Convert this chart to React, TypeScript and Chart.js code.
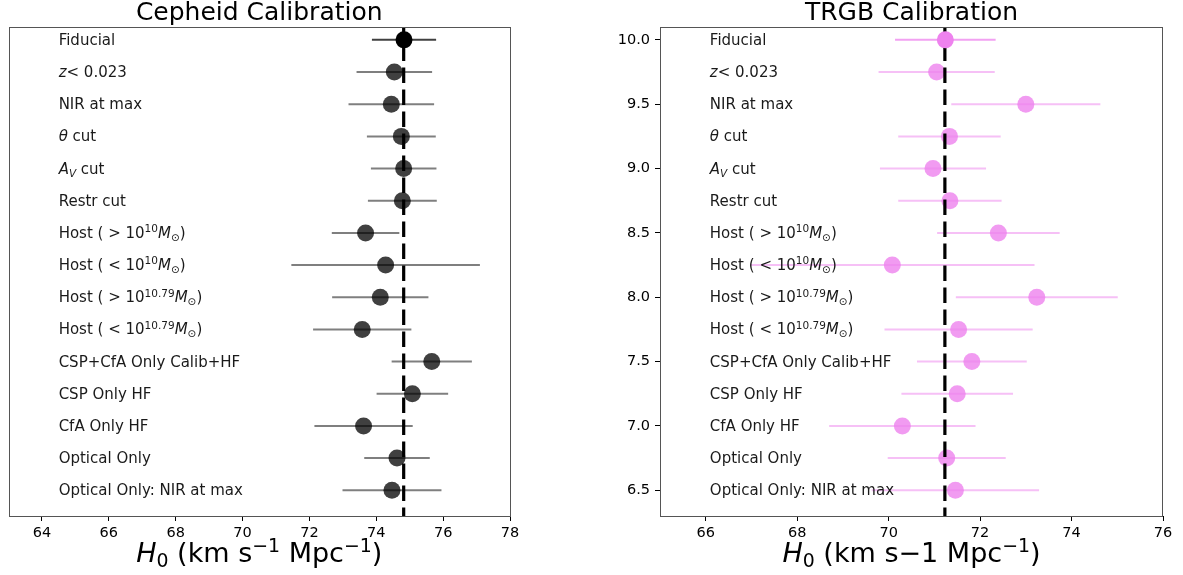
import React, { useEffect, useRef } from "react";
import { Chart, registerables } from "chart.js";
Chart.register(...registerables);

// ---------- data ----------
const rowLabels = [
  "Fiducial",
  "*z*< 0.023",
  "NIR at max",
  "*θ* cut",
  "*A*_{*V*} cut",
  "Restr cut",
  "Host ( > 10^{10}*M*_{⊙})",
  "Host ( < 10^{10}*M*_{⊙})",
  "Host ( > 10^{10.79}*M*_{⊙})",
  "Host ( < 10^{10.79}*M*_{⊙})",
  "CSP+CfA Only Calib+HF",
  "CSP Only HF",
  "CfA Only HF",
  "Optical Only",
  "Optical Only: NIR at max",
];
const rowY = [10.0, 9.75, 9.5, 9.25, 9.0, 8.75, 8.5, 8.25, 8.0, 7.75, 7.5, 7.25, 7.0, 6.75, 6.5];

const cepheidH0 = [74.83, 74.54, 74.45, 74.75, 74.82, 74.78, 73.68, 74.28, 74.12, 73.58, 75.66, 75.08, 73.62, 74.62, 74.47];
const cepheidErr = [0.96, 1.13, 1.28, 1.03, 0.98, 1.03, 1.01, 2.82, 1.44, 1.47, 1.2, 1.07, 1.47, 0.98, 1.48];
const cepheidRef = 74.82;

const trgbH0 = [71.24, 71.05, 73.0, 71.33, 70.97, 71.34, 72.4, 70.08, 73.24, 71.53, 71.82, 71.5, 70.3, 71.27, 71.46];
const trgbErr = [1.1, 1.27, 1.63, 1.12, 1.16, 1.13, 1.34, 3.11, 1.77, 1.62, 1.2, 1.22, 1.6, 1.29, 1.83];
const trgbRef = 71.23;

const cepheidXTicks = [64, 66, 68, 70, 72, 74, 76, 78];
const trgbXTicks = [66, 68, 70, 72, 74, 76];
const trgbYTicks = [6.5, 7.0, 7.5, 8.0, 8.5, 9.0, 9.5, 10.0];

const FONT = '"DejaVu Sans"';

// ---------- rich text (italic, super/subscript) ----------
type Seg = { t: string; it: boolean; m: number };
function parseRich(s: string): Seg[] {
  const out: Seg[] = [];
  let it = false;
  let mode = 0;
  let buf = "";
  const push = () => {
    if (buf) {
      out.push({ t: buf, it, m: mode });
      buf = "";
    }
  };
  for (let i = 0; i < s.length; i++) {
    const c = s[i];
    if (c === "*") { push(); it = !it; continue; }
    if ((c === "^" || c === "_") && s[i + 1] === "{") { push(); mode = c === "^" ? 1 : -1; i++; continue; }
    if (c === "}" && mode !== 0) { push(); mode = 0; continue; }
    buf += c;
  }
  push();
  return out;
}
function segFont(seg: Seg, size: number) {
  const s = seg.m ? size * 0.7 : size;
  return `${seg.it ? "italic " : ""}${s}px ${FONT}`;
}
function drawRich(ctx: CanvasRenderingContext2D, s: string, x: number, y: number, size: number, align: "left" | "center", color: string) {
  const segs = parseRich(s);
  let w = 0;
  const widths = segs.map((g) => {
    ctx.font = segFont(g, size);
    const mw = ctx.measureText(g.t).width;
    w += mw;
    return mw;
  });
  let cx = align === "center" ? x - w / 2 : x;
  ctx.save();
  ctx.fillStyle = color;
  ctx.textAlign = "left";
  ctx.textBaseline = "alphabetic";
  segs.forEach((g, i) => {
    ctx.font = segFont(g, size);
    const dy = g.m === 1 ? -0.38 * size : g.m === -1 ? 0.2 * size : 0;
    ctx.fillText(g.t, cx, y + dy);
    cx += widths[i];
  });
  ctx.restore();
}

// ---------- panel ----------
type PanelCfg = {
  title: string;
  xTitle: string;
  values: number[];
  errs: number[];
  ref: number;
  xMin: number;
  xMax: number;
  xTicks: number[];
  yTicks: number[] | null;
  labelX: number;
  width: number;
  padLeft: number;
  padRight: number;
  yAxisWidth: number;
  fidColor: string;
  ptColor: string;
  fidBarColor: string;
  barColor: string;
};

function buildChart(canvas: HTMLCanvasElement, c: PanelCfg) {
  const others = rowY.slice(1).map((y, i) => ({ x: c.values[i + 1], y }));
  const fid = [{ x: c.values[0], y: rowY[0] }];

  const panelPlugin = {
    id: "panelExtras",
    beforeDatasetsDraw(chart: any) {
      const { ctx } = chart;
      const xs = chart.scales.x;
      const ys = chart.scales.y;
      ctx.save();
      ctx.lineWidth = 2;
      for (let i = 0; i < rowY.length; i++) {
        const y = ys.getPixelForValue(rowY[i]);
        ctx.strokeStyle = i === 0 ? c.fidBarColor : c.barColor;
        ctx.beginPath();
        ctx.moveTo(xs.getPixelForValue(c.values[i] - c.errs[i]), y);
        ctx.lineTo(xs.getPixelForValue(c.values[i] + c.errs[i]), y);
        ctx.stroke();
      }
      ctx.restore();
    },
    afterDatasetDraw(chart: any, args: any) {
      if (args.index !== 0) return;
      const { ctx, chartArea } = chart;
      const x = chart.scales.x.getPixelForValue(c.ref);
      ctx.save();
      ctx.strokeStyle = "#000";
      ctx.lineWidth = 3.2;
      ctx.setLineDash([15.4, 6.6]);
      ctx.lineDashOffset = 3.4;
      ctx.beginPath();
      ctx.moveTo(x, chartArea.top);
      ctx.lineTo(x, chartArea.bottom);
      ctx.stroke();
      ctx.restore();
    },
    afterDraw(chart: any) {
      const { ctx, chartArea } = chart;
      const xs = chart.scales.x;
      const ys = chart.scales.y;
      // row labels
      const lx = xs.getPixelForValue(c.labelX);
      rowLabels.forEach((lab, i) => {
        drawRich(ctx, lab, lx, ys.getPixelForValue(rowY[i]) + 5, 15, "left", "#1a1a1a");
      });
      // frame
      ctx.save();
      ctx.strokeStyle = "#555";
      ctx.lineWidth = 1;
      ctx.strokeRect(
        Math.round(chartArea.left) + 0.5,
        Math.round(chartArea.top) + 0.5,
        Math.round(chartArea.right - chartArea.left) - 1,
        Math.round(chartArea.bottom - chartArea.top)
      );
      ctx.restore();
      // x title
      drawRich(ctx, c.xTitle, (chartArea.left + chartArea.right) / 2, 562, 27, "center", "#000");
    },
  };

  const tickFont = { family: FONT, size: 14.5 };

  return new Chart(canvas, {
    type: "scatter",
    data: {
      datasets: [
        { data: others, pointRadius: 8.5, pointHoverRadius: 8.5, pointBackgroundColor: c.ptColor, pointBorderWidth: 0, borderWidth: 0, order: 2 } as any,
        { data: fid, pointRadius: 8.5, pointHoverRadius: 8.5, pointBackgroundColor: c.fidColor, pointBorderWidth: 0, borderWidth: 0, order: 1 } as any,
      ],
    },
    options: {
      responsive: false,
      animation: false,
      events: [],
      layout: { padding: { left: c.padLeft, right: c.padRight, top: 0, bottom: 0 } },
      plugins: {
        legend: { display: false },
        tooltip: { enabled: false },
        title: {
          display: true,
          text: c.title,
          color: "#000",
          font: { family: FONT, size: 25, weight: "normal", lineHeight: 1 },
          padding: { top: 1, bottom: 1 },
          fullSize: false,
        } as any,
      },
      scales: {
        x: {
          type: "linear",
          min: c.xMin,
          max: c.xMax,
          afterBuildTicks: (s: any) => {
            s.ticks = c.xTicks.map((v) => ({ value: v }));
          },
          afterFit: (s: any) => {
            s.height = 59;
          },
          ticks: {
            font: tickFont,
            color: "#000",
            padding: 4,
            maxRotation: 0,
            autoSkip: false,
            callback: (v: any) => String(v),
          },
          grid: { display: true, drawOnChartArea: false, drawTicks: true, tickLength: 5, color: "#000", lineWidth: 1 },
          border: { display: false },
        },
        y: c.yTicks
          ? {
              type: "linear",
              min: 6.3,
              max: 10.1,
              afterBuildTicks: (s: any) => {
                s.ticks = (c.yTicks as number[]).map((v) => ({ value: v }));
              },
              afterFit: (s: any) => {
                s.width = c.yAxisWidth;
              },
              ticks: {
                font: tickFont,
                color: "#000",
                padding: 5,
                autoSkip: false,
                callback: (v: any) => Number(v).toFixed(1),
              },
              grid: { display: true, drawOnChartArea: false, drawTicks: true, tickLength: 5, color: "#000", lineWidth: 1 },
              border: { display: false },
            }
          : { type: "linear", min: 6.3, max: 10.1, display: false },
      },
    } as any,
    plugins: [panelPlugin as any],
  });
}

const leftCfg: PanelCfg = {
  title: "Cepheid Calibration",
  xTitle: "*H*_{0} (km s^{−1} Mpc^{−1})",
  values: cepheidH0,
  errs: cepheidErr,
  ref: cepheidRef,
  xMin: 63,
  xMax: 78,
  xTicks: cepheidXTicks,
  yTicks: null,
  labelX: 64.5,
  width: 590,
  padLeft: 5,
  padRight: 80,
  yAxisWidth: 0,
  fidColor: "#000000",
  ptColor: "rgba(0,0,0,0.75)",
  fidBarColor: "rgba(0,0,0,0.75)",
  barColor: "rgba(0,0,0,0.5)",
};

const rightCfg: PanelCfg = {
  title: "TRGB Calibration",
  xTitle: "*H*_{0} (km s−1 Mpc^{−1})",
  values: trgbH0,
  errs: trgbErr,
  ref: trgbRef,
  xMin: 65,
  xMax: 76,
  xTicks: trgbXTicks,
  yTicks: trgbYTicks,
  labelX: 66.09,
  width: 593,
  padLeft: 0,
  padRight: 20,
  yAxisWidth: 70,
  fidColor: "rgb(238,130,238)",
  ptColor: "rgba(238,130,238,0.8)",
  fidBarColor: "rgba(238,130,238,0.75)",
  barColor: "rgba(238,130,238,0.5)",
};

function Panel({ cfg, left }: { cfg: PanelCfg; left: number }) {
  const ref = useRef<HTMLCanvasElement | null>(null);
  useEffect(() => {
    if (!ref.current) return;
    const chart = buildChart(ref.current, cfg);
    return () => chart.destroy();
  }, [cfg]);
  return (
    <canvas
      ref={ref}
      width={cfg.width}
      height={575}
      style={{ position: "absolute", left, top: 0, width: cfg.width, height: 575, display: "block" }}
    />
  );
}

export default function App() {
  return (
    <div style={{ position: "absolute", left: 0, top: 0, width: 1183, height: 575, background: "#fff", overflow: "hidden" }}>
      <Panel cfg={leftCfg} left={0} />
      <Panel cfg={rightCfg} left={590} />
    </div>
  );
}
